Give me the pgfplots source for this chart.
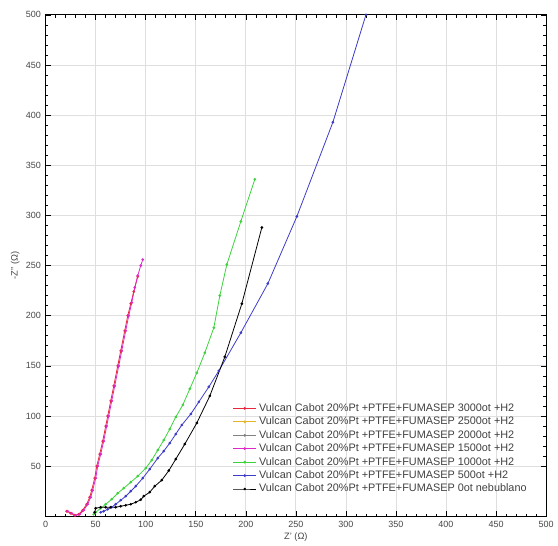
\documentclass[border=0pt]{standalone}
\usepackage{pgfplots}
\pgfplotsset{compat=1.18}
\usepackage{fontspec}
\setmainfont{Liberation Sans}
\definecolor{cRed}{RGB}{230,40,60}
\definecolor{cOrange}{RGB}{230,180,40}
\definecolor{cGray}{RGB}{130,130,130}
\definecolor{cMag}{RGB}{220,40,200}
\definecolor{cGreen}{RGB}{60,210,60}
\definecolor{cBlue}{RGB}{60,60,200}
\definecolor{cTick}{RGB}{70,70,70}
\begin{document}
\begin{tikzpicture}
\begin{axis}[
  name=main, scale only axis,
  width=378pt, height=378.75pt,
  xmin=0, xmax=500, ymin=0, ymax=500,
  xtick={0,50,...,500}, ytick={50,100,...,500},
  minor x tick num=4, minor y tick num=4,
  tick align=inside, major tick length=4pt, minor tick length=2pt,
  tick style={black, line width=0.5pt},
  grid=major, grid style={gray!25, line width=0.6pt},
  axis line style={black, line width=0.7pt},
  tick label style={font=\fontsize{6.8}{8}\selectfont, text=cTick},
  /pgf/number format/assume math mode=true,
  label style={font=\fontsize{7}{8}\selectfont, text=cTick},
  xlabel={Z' (Ω)}, ylabel={-Z'' (Ω)},
  xlabel style={yshift=3pt}, ylabel style={yshift=-2pt},
  legend style={at={(axis cs:183,118)}, anchor=north west, draw=none, fill=none,
    font=\fontsize{8.2}{9}\selectfont, row sep=-1.3pt, text=black!75},
  legend cell align=left,
  every axis plot/.append style={line width=0.6pt, mark=*, mark size=0.7pt},
]
% 3000ot
\addplot[cRed] coordinates {(21,5) (25,3) (29,1) (33,2) (37,6) (41,12) (44,19) (46,26) (49,38) (51,50) (54,62) (57,75) (60,90) (62,100) (65,115) (68,130) (72,150) (75,165) (79,185) (82,200) (85,212) (88,224) (92,239)};
\addlegendentry{Vulcan Cabot 20\%Pt +PTFE+FUMASEP 3000ot +H2}
\addlegendimage{cOrange, line width=0.6pt, mark=*, mark size=0.7pt}
\addlegendentry{Vulcan Cabot 20\%Pt +PTFE+FUMASEP 2500ot +H2}
\addlegendimage{cGray, line width=0.6pt, mark=*, mark size=0.7pt}
\addlegendentry{Vulcan Cabot 20\%Pt +PTFE+FUMASEP 2000ot +H2}
% 1500ot
\addplot[cMag] coordinates {(22,5) (26,3) (30,1) (34,2) (38,6) (42,12) (45,19) (47,26) (50,38) (52,50) (55,62) (58,75) (61,90) (63,100) (66,115) (69,130) (73,150) (76,165) (80,185) (83,200) (86,213) (89,228) (92,240) (95,250) (97,256)};
\addlegendentry{Vulcan Cabot 20\%Pt +PTFE+FUMASEP 1500ot +H2}
% 1000ot
\addplot[cGreen] coordinates {(48,2) (50,4) (55,8) (60,12) (66,17) (72,23) (78,28) (85,34) (92,40) (100,48) (106,56) (112,66) (118,76) (124,87) (130,99) (137,111) (144,127) (151,143) (159,163) (168,188) (174,220) (181,251) (195,294) (209,336)};
\addlegendentry{Vulcan Cabot 20\%Pt +PTFE+FUMASEP 1000ot +H2}
% 500ot
\addplot[cBlue] coordinates {(55,4) (58,5) (62,7) (66,9) (70,12) (75,16) (80,20) (85,25) (90,30) (97,38) (104,47) (112,58) (118,65) (124,73) (130,82) (136,91) (145,102) (153,114) (163,129) (173,145) (195,183) (222,232) (251,299) (287,393) (320,500)};
\addlegendentry{Vulcan Cabot 20\%Pt +PTFE+FUMASEP 500ot +H2}
% 0ot
\addplot[black] coordinates {(49,4) (50,8) (55,9) (60,9) (65,9) (70,9) (75,10) (80,11) (85,12) (90,14) (95,16.5) (98,20) (104,24) (109,30) (116,36) (123,45.5) (130,57) (139,72) (151,93) (164,120) (179,159) (196,212) (216,288)};
\addlegendentry{Vulcan Cabot 20\%Pt +PTFE+FUMASEP 0ot nebublano}
\end{axis}
\path (main.south west) ++(-34.5pt,-20.25pt) (main.north east) ++(6pt,11.25pt);
\end{tikzpicture}
\end{document}
